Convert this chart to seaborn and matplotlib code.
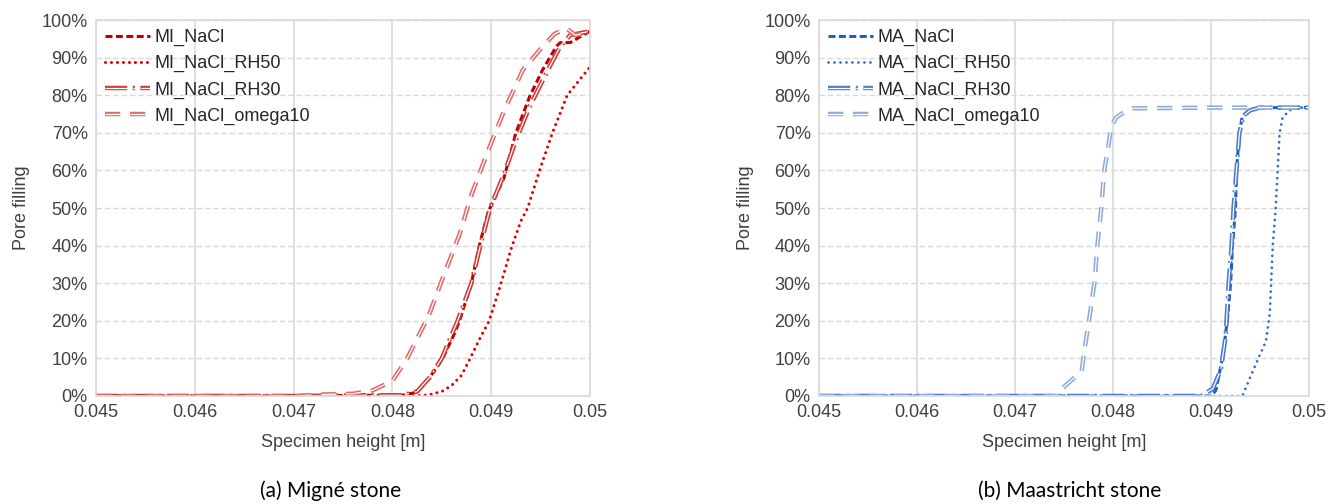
import matplotlib
matplotlib.use('agg')
import matplotlib.pyplot as plt
import matplotlib.patheffects as pe
from matplotlib.ticker import PercentFormatter, MultipleLocator
import numpy as np
import seaborn as sns

# ---- Migné stone (MI) ----
mi_nacl_x = [0.045, 0.046, 0.047, 0.0478, 0.0481, 0.04825, 0.04838, 0.04851, 0.04863, 0.04868, 0.0488,
             0.04888, 0.04897, 0.04913, 0.04925, 0.04939, 0.04952, 0.04966, 0.0497, 0.0498, 0.04993, 0.05]
mi_nacl_y = [0, 0, 0, 0.002, 0.002, 0.01, 0.05, 0.10, 0.167, 0.20, 0.30,
             0.40, 0.49, 0.58, 0.70, 0.797, 0.867, 0.93, 0.94, 0.94, 0.96, 0.97]

mi_rh50_x = [0.045, 0.047, 0.0482, 0.04837, 0.0485, 0.0486, 0.0487, 0.04878, 0.04888, 0.04898, 0.0491,
             0.0492, 0.0493, 0.04937, 0.04949, 0.04962, 0.04977, 0.05]
mi_rh50_y = [0, 0, 0, 0.003, 0.012, 0.028, 0.055, 0.096, 0.15, 0.20, 0.30,
             0.39, 0.465, 0.50, 0.60, 0.70, 0.80, 0.875]

mi_rh30_x = [0.045, 0.046, 0.047, 0.0478, 0.0481, 0.04825, 0.04838, 0.0485, 0.04866, 0.0488, 0.04889,
             0.04899, 0.04913, 0.04925, 0.04939, 0.04959, 0.0497, 0.0498, 0.05]
mi_rh30_y = [0, 0, 0, 0.002, 0.002, 0.012, 0.05, 0.10, 0.20, 0.30, 0.40,
             0.50, 0.59, 0.68, 0.77, 0.875, 0.93, 0.96, 0.97]

mi_om10_x = [0.045, 0.046, 0.047, 0.0473, 0.0476, 0.0478, 0.048, 0.04815, 0.04837, 0.04849, 0.04868,
             0.0488, 0.04898, 0.04913, 0.04932, 0.04949, 0.04964, 0.04976, 0.04985, 0.0499, 0.05]
mi_om10_y = [0, 0, 0, 0.004, 0.006, 0.015, 0.04, 0.10, 0.215, 0.30, 0.43,
             0.535, 0.66, 0.758, 0.867, 0.92, 0.963, 0.978, 0.96, 0.962, 0.97]

# ---- Maastricht stone (MA) ----
ma_nacl_x = [0.045, 0.046, 0.047, 0.048, 0.049, 0.04905, 0.04912, 0.04917, 0.0492, 0.04922, 0.04925,
             0.04926, 0.04929, 0.04932, 0.04939, 0.0495, 0.05]
ma_nacl_y = [0, 0, 0, 0, 0, 0.015, 0.105, 0.21, 0.30, 0.40, 0.50,
             0.60, 0.70, 0.745, 0.76, 0.767, 0.767]

ma_rh50_x = [0.045, 0.046, 0.047, 0.048, 0.049, 0.04932, 0.0494, 0.0495, 0.04956, 0.0496, 0.04963,
             0.04966, 0.04968, 0.0497, 0.04973, 0.0498, 0.0499, 0.05]
ma_rh50_y = [0, 0, 0, 0, 0, 0, 0.05, 0.11, 0.145, 0.22, 0.40,
             0.50, 0.60, 0.70, 0.74, 0.76, 0.767, 0.767]

ma_rh30_x = [0.045, 0.046, 0.047, 0.048, 0.0489, 0.04902, 0.0491, 0.04915, 0.04918, 0.04921, 0.04923,
             0.04926, 0.04929, 0.04933, 0.0494, 0.0495, 0.05]
ma_rh30_y = [0, 0, 0, 0, 0, 0.02, 0.07, 0.16, 0.30, 0.40, 0.50,
             0.60, 0.70, 0.745, 0.76, 0.767, 0.767]

ma_om10_x = [0.045, 0.046, 0.047, 0.04746, 0.04749, 0.04768, 0.04771, 0.04776, 0.04781, 0.04784, 0.04788,
             0.04791, 0.04795, 0.04798, 0.04803, 0.04814, 0.0482, 0.049, 0.05]
ma_om10_y = [0, 0, 0, 0, 0.022, 0.066, 0.125, 0.21, 0.30, 0.40, 0.50,
             0.60, 0.66, 0.715, 0.74, 0.76, 0.765, 0.767, 0.767]

xticks = [0.045, 0.046, 0.047, 0.048, 0.049, 0.05]
xticklabels = ['0.045', '0.046', '0.047', '0.048', '0.049', '0.05']

sns.set_theme(style="white")
plt.rcParams['font.family'] = ['Liberation Sans', 'DejaVu Sans']
plt.rcParams['lines.scale_dashes'] = False

GRID = '#d9d9d9'
TXT = '#404040'


def double(color, w=3.2):
    return [pe.Stroke(linewidth=w, foreground=color), pe.Stroke(linewidth=0.9, foreground='white')]


def style_axes(ax):
    ax.set_xlim(0.045, 0.05)
    ax.set_ylim(0, 1)
    ax.set_xticks(xticks)
    ax.set_xticklabels(xticklabels)
    ax.yaxis.set_major_locator(MultipleLocator(0.1))
    ax.yaxis.set_major_formatter(PercentFormatter(1.0, decimals=0))
    ax.tick_params(axis='both', length=0, labelsize=13, colors=TXT, pad=6)
    for s in ax.spines.values():
        s.set_color(GRID)
        s.set_linewidth(1.2)
    ax.yaxis.grid(True, color=GRID, linestyle=(0, (4, 2)), linewidth=1)
    ax.xaxis.grid(True, color=GRID, linestyle='-', linewidth=1.2)
    ax.set_axisbelow(True)
    ax.set_xlabel('Specimen height [m]', fontsize=13, color=TXT)
    ax.set_ylabel('Pore filling', fontsize=13, color=TXT)
    ax.xaxis.set_label_coords(0.5, -0.1)
    ax.yaxis.set_label_coords(-0.133, 0.5)
    ax.legend(loc='upper left', bbox_to_anchor=(0.0, 1.0), frameon=False, fontsize=13,
              handlelength=2.5, handletextpad=0.25, labelspacing=0.5, borderaxespad=0.2,
              borderpad=0.3, labelcolor='#262626')


fig = plt.figure(figsize=(13.39, 5.04), dpi=100)
ax1 = fig.add_axes([0.0717, 0.2143, 0.3689, 0.746])
ax2 = fig.add_axes([0.6117, 0.2143, 0.3659, 0.746])

# left panel
c_nacl, c_rh50, c_rh30, c_om = '#c00000', '#e00000', '#d03838', '#e46a6a'
sns.lineplot(x=mi_nacl_x, y=mi_nacl_y, ax=ax1, color=c_nacl, linewidth=2.2,
             linestyle=(0, (5, 2.5)), label='MI_NaCl')
sns.lineplot(x=mi_rh50_x, y=mi_rh50_y, ax=ax1, color=c_rh50, linewidth=2.2,
             linestyle=(0, (0.01, 4.3)), dash_capstyle='round', label='MI_NaCl_RH50')
sns.lineplot(x=mi_rh30_x, y=mi_rh30_y, ax=ax1, color=c_rh30, linewidth=3.2,
             linestyle=(0, (16, 4, 1.5, 4)), path_effects=double(c_rh30), label='MI_NaCl_RH30')
sns.lineplot(x=mi_om10_x, y=mi_om10_y, ax=ax1, color=c_om, linewidth=3.2,
             linestyle=(0, (11, 7)), path_effects=double(c_om), label='MI_NaCl_omega10')
style_axes(ax1)

# right panel
b_nacl, b_rh50, b_rh30, b_om = '#1f5fc0', '#2f6bd0', '#4a78cc', '#8eaadc'
sns.lineplot(x=ma_nacl_x, y=ma_nacl_y, ax=ax2, color=b_nacl, linewidth=2.2,
             linestyle=(0, (5, 2.5)), label='MA_NaCl')
sns.lineplot(x=ma_rh50_x, y=ma_rh50_y, ax=ax2, color=b_rh50, linewidth=2.0,
             linestyle=(0, (0.01, 4.3)), dash_capstyle='round', label='MA_NaCl_RH50')
sns.lineplot(x=ma_rh30_x, y=ma_rh30_y, ax=ax2, color=b_rh30, linewidth=3.2,
             linestyle=(0, (16, 4, 1.5, 4)), path_effects=double(b_rh30), label='MA_NaCl_RH30')
sns.lineplot(x=ma_om10_x, y=ma_om10_y, ax=ax2, color=b_om, linewidth=3.2,
             linestyle=(0, (11, 7)), path_effects=double(b_om), label='MA_NaCl_omega10')
style_axes(ax2)

fig.text(0.2465, 0.027, '(a) Migné stone', ha='center', va='center', fontsize=15,
         family=['Lato', 'DejaVu Sans'], color='#000000')
fig.text(0.799, 0.027, '(b) Maastricht stone', ha='center', va='center', fontsize=15,
         family=['Lato', 'DejaVu Sans'], color='#000000')

fig.savefig('out.png', dpi=100)
